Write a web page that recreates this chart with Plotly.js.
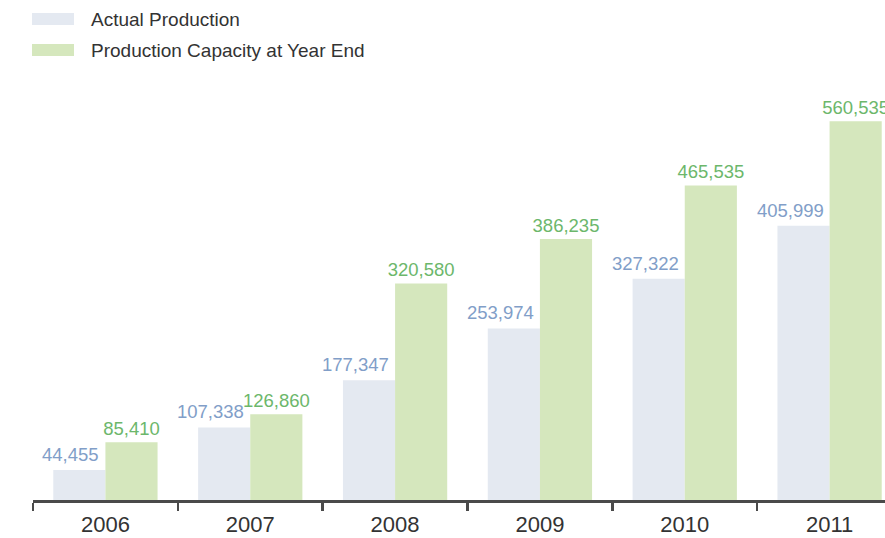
<!DOCTYPE html>
<html>
<head>
<meta charset="utf-8">
<script src="https://cdn.plot.ly/plotly-3.0.1.min.js"></script>
<style>
  html, body { margin: 0; padding: 0; overflow: hidden; background: #ffffff; width: 885px; height: 538px; }
  #chart { width: 910px; height: 538px; }
</style>
</head>
<body>
<div id="chart"></div>
<script>
// ---- Data ----
const years = ['2006', '2007', '2008', '2009', '2010', '2011'];
const actualProduction = [44455, 107338, 177347, 253974, 327322, 405999];
const productionCapacity = [85410, 126860, 320580, 386235, 465535, 560535];
const seriesNames = ['Actual Production', 'Production Capacity at Year End'];

// ---- Styles ----
const barColors = ['#e4e9f1', '#d5e7bd'];
const labelColors = ['#819ec8', '#6cb76b'];
const fontFamily = '"Liberation Sans", Arial, Helvetica, sans-serif';

const fmt = v => v.toLocaleString('en-US');

const traces = [
  {
    type: 'bar',
    name: seriesNames[0],
    x: years,
    y: actualProduction,
    marker: { color: barColors[0], line: { width: 0 } },
    hoverinfo: 'skip',
    showlegend: false
  },
  {
    type: 'bar',
    name: seriesNames[1],
    x: years,
    y: productionCapacity,
    text: productionCapacity.map(fmt),
    textposition: 'outside',
    constraintext: 'none',
    cliponaxis: false,
    textfont: { family: fontFamily, size: 18.5, color: labelColors[1] },
    marker: { color: barColors[1], line: { width: 0 } },
    hoverinfo: 'skip',
    showlegend: false
  }
];

// blue value labels: right-aligned just left of the group centre, drawn on top
// (category axes take the category index for annotation positions)
const blueLabels = years.map((yr, i) => ({
  xref: 'x', yref: 'y', x: i, y: actualProduction[i],
  xanchor: 'right', yanchor: 'bottom', xshift: -4, yshift: 3,
  showarrow: false, text: fmt(actualProduction[i]),
  font: { family: fontFamily, size: 18.5, color: labelColors[0] }
}));

// custom legend geometry (plot area: x 33..902 px, y 80..500 px)
const W = 869, H = 420, L = 33, B = 500;
const px = v => (v - L) / W;
const py = v => (B - v) / H;
const legendRows = [19, 50];

const shapes = legendRows.map((cy, i) => ({
  type: 'rect', xref: 'paper', yref: 'paper',
  x0: px(32), x1: px(74), y0: py(cy + 6), y1: py(cy - 6),
  fillcolor: barColors[i], line: { width: 0 }
}));
const legendText = legendRows.map((cy, i) => ({
  xref: 'paper', yref: 'paper', x: px(89), y: py(cy),
  xanchor: 'left', yanchor: 'middle', showarrow: false,
  text: seriesNames[i],
  font: { family: fontFamily, size: 19, color: '#333333' }
}));

const layout = {
  width: 910,
  height: 538,
  margin: { l: 33, r: 8, t: 80, b: 38 },
  paper_bgcolor: '#ffffff',
  plot_bgcolor: '#ffffff',
  barmode: 'group',
  bargap: 0.28,
  bargroupgap: 0,
  font: { family: fontFamily, color: '#333333' },
  xaxis: {
    type: 'category',
    range: [-0.5, years.length - 0.5],
    tickson: 'boundaries',
    ticks: 'outside',
    ticklen: 8,
    tickwidth: 2.5,
    tickcolor: '#4a4a4a',
    showline: true,
    linecolor: '#4a4a4a',
    linewidth: 2.5,
    showgrid: false,
    zeroline: false,
    tickfont: { family: fontFamily, size: 22, color: '#333333' },
    ticklabelstandoff: 3,
    fixedrange: true
  },
  yaxis: {
    visible: false,
    range: [0, 621600],
    showgrid: false,
    zeroline: false,
    fixedrange: true
  },
  shapes: shapes,
  annotations: blueLabels.concat(legendText),
  showlegend: false
};

Plotly.newPlot('chart', traces, layout, { displayModeBar: false, staticPlot: true });
</script>
</body>
</html>
